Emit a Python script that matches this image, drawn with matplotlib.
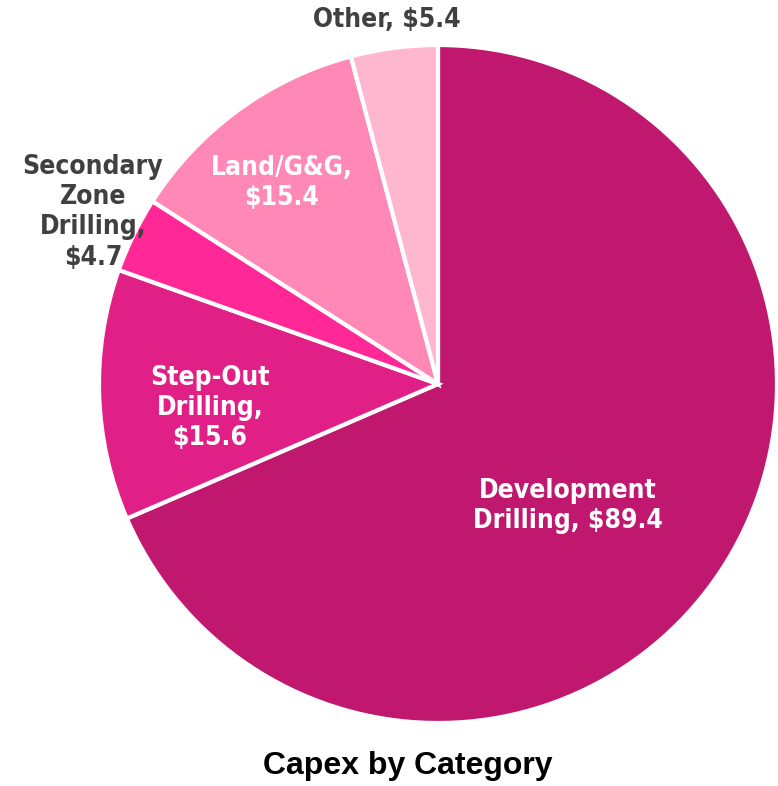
import matplotlib.pyplot as plt

# data
categories = ["Development Drilling", "Step-Out Drilling", "Secondary Zone Drilling", "Land/G&G", "Other"]
values = [89.4, 15.6, 4.7, 15.4, 5.4]
label_texts = ["Development\nDrilling, $89.4", "Step-Out\nDrilling,\n$15.6",
               "Secondary\nZone\nDrilling,\n$4.7", "Land/G&G,\n$15.4", "Other, $5.4"]

colors = ["#C0186F", "#E02086", "#FF2896", "#FF88B6", "#FFB6CF"]
# label placement (data coords of the pie, radius 1) and text colour
label_pos = [(0.383, -0.360), (-0.673, -0.071), (-1.018, 0.507), (-0.460, 0.593), (-0.150, 1.074)]
label_col = ["white", "white", "#404040", "white", "#404040"]

W, H = 778, 786
fig = plt.figure(figsize=(W / 100, H / 100), dpi=100)
cx, cy, R = 438, 384, 339
ax = fig.add_axes([(cx - R) / W, (H - cy - R) / H, 2 * R / W, 2 * R / H])

ax.pie(values, colors=colors, startangle=90, counterclock=False, radius=1,
       wedgeprops=dict(edgecolor="white", linewidth=3))
ax.set_xlim(-1, 1)
ax.set_ylim(-1, 1)
ax.set_aspect("equal")
ax.axis("off")

for txt, (x, y), c in zip(label_texts, label_pos, label_col):
    ax.text(x, y, txt, ha="center", va="center", color=c, fontsize=19,
            fontweight="bold", family="DejaVu Sans", stretch="condensed",
            linespacing=1.22, clip_on=False)

fig.text(408 / W, (H - 766) / H, "Capex by Category", ha="center", va="center",
         fontsize=23, fontweight="bold", family="Liberation Sans", color="black")

fig.savefig("out.png", dpi=100)
